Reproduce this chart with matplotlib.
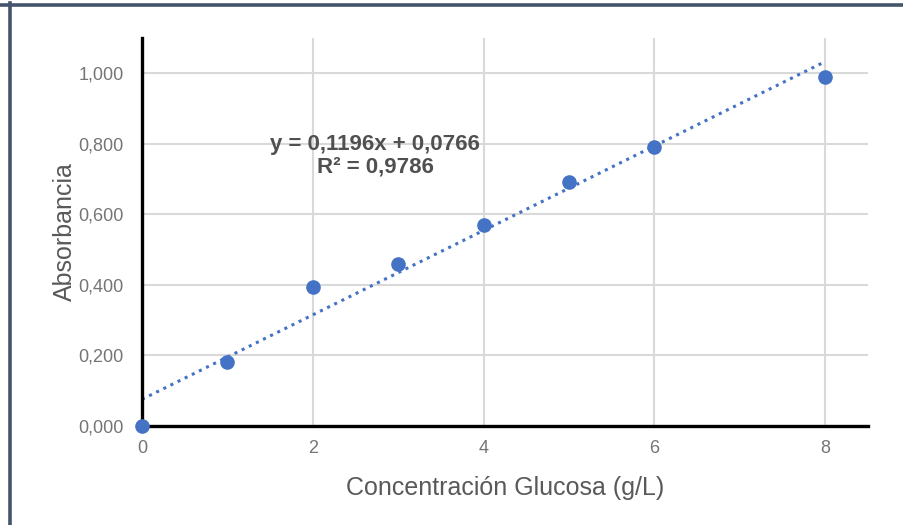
# coding: utf-8

import numpy as np
import matplotlib.pyplot as plt
from matplotlib.lines import Line2D

conc = [0, 1, 2, 3, 4, 5, 6, 8]
absorb = [0.0, 0.181, 0.393, 0.460, 0.571, 0.692, 0.791, 0.989]
x_ticks = [0, 2, 4, 6, 8]
y_ticks = [0.0, 0.2, 0.4, 0.6, 0.8, 1.0]
eq_text = 'y = 0,1196x + 0,0766\nR² = 0,9786'


def main():
    plt.rcParams['font.family'] = ['Liberation Sans', 'DejaVu Sans']
    blue = '#4472c4'

    fig = plt.figure(figsize=(9.04, 5.25), dpi=100)
    ax = fig.add_axes([142 / 904, 99 / 525, (868 - 142) / 904, (426 - 38) / 525])

    # trendline
    slope, intercept = np.polyfit(conc, absorb, 1)
    xs = np.array([0, 8])
    ax.plot(xs, slope * xs + intercept, color=blue, linestyle=(0, (1, 1.6)),
            linewidth=2.2, zorder=3)

    ax.plot(conc, absorb, 'o', color=blue, markersize=9.5, zorder=4,
            clip_on=False)

    ax.set_xlim(0, 8.5)
    ax.set_ylim(0, 1.1)
    ax.set_xticks(x_ticks)
    ax.set_yticks(y_ticks)
    ax.set_yticklabels(['{:.3f}'.format(v).replace('.', ',') for v in y_ticks])
    ax.tick_params(axis='both', length=0, labelsize=13, colors='#757575')
    ax.tick_params(axis='y', pad=13)
    ax.tick_params(axis='x', pad=10)

    ax.grid(True, color='#d9d9d9', linewidth=1.5)
    ax.set_axisbelow(True)
    for s in ['top', 'right']:
        ax.spines[s].set_visible(False)
    for s in ['left', 'bottom']:
        ax.spines[s].set_linewidth(2.4)
        ax.spines[s].set_color('black')
        ax.spines[s].set_zorder(3.5)

    ax.set_xlabel('Concentración Glucosa (g/L)', fontsize=18, color='#595959',
                  labelpad=14)
    ax.set_ylabel('Absorbancia', fontsize=18, color='#595959', labelpad=1)

    ax.text(2.73, 0.766, eq_text, ha='center', va='center', fontsize=16,
            fontweight='bold', color='#505050', linespacing=1.05)

    # frame lines (top and left)
    border = '#44546a'
    fig.add_artist(Line2D([0, 1], [1 - 4.5 / 525] * 2, color=border,
                          linewidth=2.6, transform=fig.transFigure))
    fig.add_artist(Line2D([10 / 904] * 2, [0, 1 - 3 / 525], color=border,
                          linewidth=2.6, transform=fig.transFigure))

    fig.savefig('out.png', dpi=100)


if __name__ == '__main__':
    main()
